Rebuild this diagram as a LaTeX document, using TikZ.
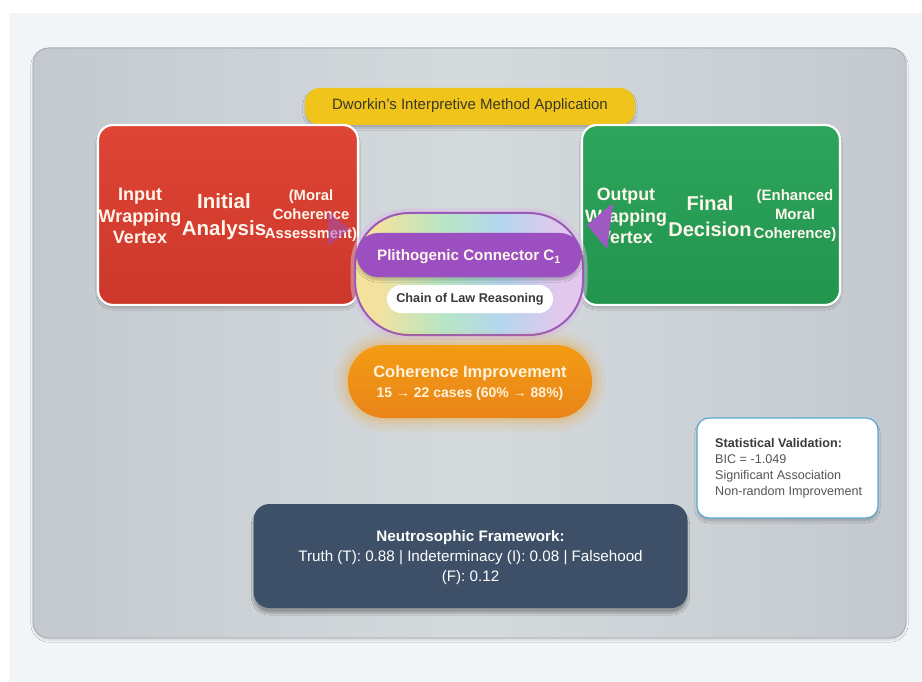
\documentclass[tikz,border=0pt]{standalone}
\usepackage{fontspec}
\setmainfont{Liberation Sans}
\usetikzlibrary{shadows.blur}
\definecolor{pagebg}{HTML}{F2F5F8}
\definecolor{panelA}{HTML}{C3C9CE}
\definecolor{panelB}{HTML}{D5DADD}
\definecolor{panelEdge}{HTML}{A3AAB0}
\definecolor{redA}{HTML}{DE4535}
\definecolor{redB}{HTML}{CC372A}
\definecolor{greenA}{HTML}{2CA55B}
\definecolor{greenB}{HTML}{23944E}
\definecolor{yel}{HTML}{F0C41B}
\definecolor{yeltext}{HTML}{3B3826}
\definecolor{purp}{HTML}{9B4FC0}
\definecolor{purpedge}{HTML}{9A5AB8}
\definecolor{orA}{HTML}{F39C14}
\definecolor{orB}{HTML}{EA8419}
\definecolor{darkbox}{HTML}{3E5067}
\definecolor{statedge}{HTML}{5BA8D5}
\definecolor{pasY}{HTML}{F3E29E}
\definecolor{pasG}{HTML}{B8E6C4}
\definecolor{pasB}{HTML}{B4D6EE}
\definecolor{pasP}{HTML}{E2C8EC}
\definecolor{txtw}{HTML}{FFF6EE}
\definecolor{txtor}{HTML}{FFF3DA}
\definecolor{chaintxt}{HTML}{3A3A3A}
\definecolor{stattxt}{HTML}{555555}
\pgfdeclarehorizontalshading{rainbowband}{100bp}{color(0bp)=(pasY); color(30bp)=(pasY); color(44bp)=(pasG); color(57bp)=(pasB); color(70bp)=(pasP); color(100bp)=(pasP)}
\tikzset{
  boxbase/.style={inner sep=0pt, rounded corners=#1},
  softshadow/.style={blur shadow={shadow xshift=0pt, shadow yshift=-3pt, shadow opacity=22, shadow blur steps=6}},
  lbl/.style={inner sep=0pt, align=center},
  fs/.style 2 args={font=\fontsize{#1}{#2}\selectfont},
  fsb/.style 2 args={font=\bfseries\fontsize{#1}{#2}\selectfont},
}
\begin{document}
\begin{tikzpicture}[x=1pt,y=-1pt]
\useasboundingbox (0,0) rectangle (922,682);
\fill[white] (0,0) rectangle (922,682);
\fill[pagebg] (9,13) rectangle (922,682);

% main panel
\node[boxbase=16pt, draw=panelEdge, line width=0.8pt, minimum width=873pt, minimum height=590pt,
      left color=panelA, right color=panelA, middle color=panelB,
      blur shadow={shadow xshift=0pt, shadow yshift=-2pt, shadow opacity=15}] (panel) at (469.5,343) {};

% title pill
\node[boxbase=15pt, fill=yel, minimum width=330pt, minimum height=37pt, softshadow] (title) at (470,106.5) {};
\node[lbl, fs={15}{18}, text=yeltext] (titletxt) at (470,106) {Dworkin's Interpretive Method Application};

% input vertex
\node[boxbase=15pt, draw=white, line width=2.2pt, top color=redA, bottom color=redB,
      minimum width=260pt, minimum height=180pt, softshadow] (input) at (228,215) {};
\node[lbl, fsb={18}{21.5}, text=txtw] (inA) at (140,216) {Input\\Wrapping\\Vertex};
\node[lbl, fsb={20.5}{26.5}, text=txtw] (inB) at (224,216.5) {Initial\\Analysis};
\node[lbl, fsb={14.8}{19}, text=txtw] (inC) at (311,216) {(Moral\\Coherence\\Assessment)};

% output vertex
\node[boxbase=15pt, draw=white, line width=2.2pt, top color=greenA, bottom color=greenB,
      minimum width=258pt, minimum height=180pt, softshadow] (output) at (711,215) {};
\node[lbl, fsb={17.8}{21.5}, text=txtw] (outA) at (626,216) {Output\\Wrapping\\Vertex};
\node[lbl, fsb={20}{26.5}, text=txtw] (outB) at (710,216.5) {Final\\Decision};
\node[lbl, fsb={15}{19}, text=txtw] (outC) at (795,216) {(Enhanced\\Moral\\Coherence)};

% arrowheads
\coordinate (la1) at (328,212);
\coordinate (la2) at (328,246);
\coordinate (la3) at (350,229);
\fill[purp, opacity=0.5] (la1) -- (la3) -- (la2) -- cycle;
\coordinate (ra1) at (613,203);
\coordinate (ra2) at (607,249);
\coordinate (ra3) at (587,225);
\fill[purp!95!white] (ra1) -- (ra3) -- (ra2) -- cycle;

% connector capsule
\node[boxbase=54pt, draw=purpedge!40!white, line width=5pt, opacity=0.5, minimum width=232pt, minimum height=126pt] (glow) at (469,274) {};
\node[boxbase=54pt, draw=purpedge, line width=2pt, shading=rainbowband,
      minimum width=228pt, minimum height=122pt] (capsule) at (469,274) {};
\node[boxbase=21pt, fill=purp, minimum width=224pt, minimum height=44pt, softshadow] (plith) at (469,255) {};
\node[lbl, fsb={15.2}{18}, text=txtw] (plithtxt) at (469,257) {Plithogenic Connector C\textsubscript{1}};
\node[boxbase=14pt, fill=white, minimum width=166pt, minimum height=28pt] (chain) at (470,299) {};
\node[lbl, fsb={12.7}{15}, text=chaintxt] (chaintxt) at (470,299) {Chain of Law Reasoning};

% coherence improvement
\foreach \g/\o in {14/0.06, 10/0.08, 6/0.10, 3/0.12}{
  \fill[orA, opacity=\o, rounded corners=36pt+\g pt] (348-\g,345-\g) rectangle (592+\g,418+\g);
}
\node[boxbase=36pt, top color=orA, bottom color=orB, minimum width=244pt, minimum height=73pt] (improve) at (470,381.5) {};
\node[lbl, fsb={16.5}{20}, text=txtor] (improvetxt) at (470,383) {Coherence Improvement\\\fontsize{14}{20}\selectfont 15 → 22 cases (60\% → 88\%)};

% statistical validation
\node[boxbase=12pt, fill=white, draw=statedge, line width=1.2pt, minimum width=181pt, minimum height=100pt, softshadow] (stat) at (787.5,468) {};
\node[inner sep=0pt, align=left, anchor=west, fs={12.6}{16}, text=stattxt] (stattxt) at (715,468)
  {{\bfseries\color{chaintxt}Statistical Validation:}\\BIC = -1.049\\Significant Association\\Non-random Improvement};

% neutrosophic framework
\node[boxbase=16pt, fill=darkbox, minimum width=434pt, minimum height=104pt,
      blur shadow={shadow xshift=0pt, shadow yshift=-5pt, shadow opacity=30, shadow blur steps=8}] (neutro) at (470.5,556) {};
\node[lbl, fs={15.2}{20}, text=white] (neutrotxt) at (470.5,558)
  {{\bfseries Neutrosophic Framework:}\\Truth (T): 0.88 | Indeterminacy (I): 0.08 | Falsehood\\(F): 0.12};
\end{tikzpicture}
\end{document}
